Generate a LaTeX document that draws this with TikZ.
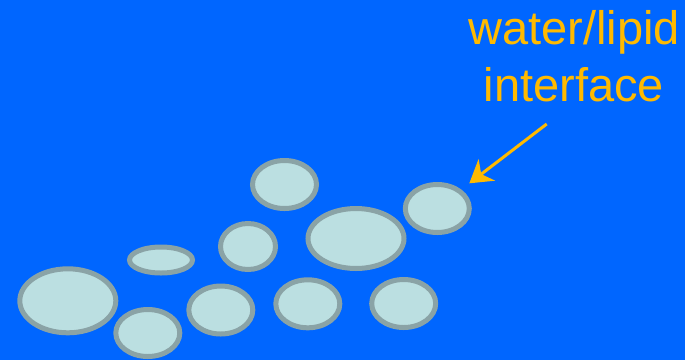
\documentclass[tikz,border=0pt]{standalone}
\usepackage{fontspec}
\setmainfont{Liberation Sans}
\usetikzlibrary{arrows.meta, shapes.geometric}
\definecolor{water}{HTML}{0066FF}
\definecolor{lipid}{HTML}{BBDFE1}
\definecolor{rim}{HTML}{8AA3A6}
\definecolor{tagcol}{HTML}{FFBA00}

\begin{document}
\begin{tikzpicture}[x=1pt, y=-1pt, >=Stealth,
    drop/.style={ellipse, draw=rim, fill=lipid, line width=5pt, inner sep=0pt,
                 minimum width=64pt, minimum height=48pt}]
  % Background
  \fill[water] (0,0) rectangle (685,360);
  \useasboundingbox (0,0) rectangle (685,360);

  % Bubbles
  \node[drop] (top) at (284.5,184.5) {};
  \node[drop, minimum width=63pt, minimum height=26pt] (flat) at (161,260) {};
  \node[drop, minimum width=55pt, minimum height=46pt] (small) at (248,246.5) {};
  \node[drop, minimum width=96pt, minimum height=64pt] (bigleft) at (67.8,300.8) {};
  \node[drop, minimum height=47pt] (low) at (147.8,333) {};
  \node[drop] (mid) at (220.8,310) {};
  \node[drop] (right) at (307.8,303.8) {};
  \node[drop, minimum width=96pt, minimum height=60pt] (bigmid) at (356,238.5) {};
  \node[drop] (edge) at (437.3,208.5) {};
  \node[drop] (last) at (403.7,303.5) {};

  % Label
  \node[tagcol, align=center, anchor=north, inner sep=0pt,
        font=\fontsize{47}{56.7}\selectfont] (iface) at (574,10.5)
    {water/lipid\\interface};

  % Arrow
  \coordinate (tail) at (546.7,124);
  \coordinate (tip) at (469.3,183.3);
  \draw[tagcol, line width=3pt,
        arrows={-Stealth[length=22pt, width=27pt, inset=7pt]}] (tail) -- (tip);
\end{tikzpicture}
\end{document}
